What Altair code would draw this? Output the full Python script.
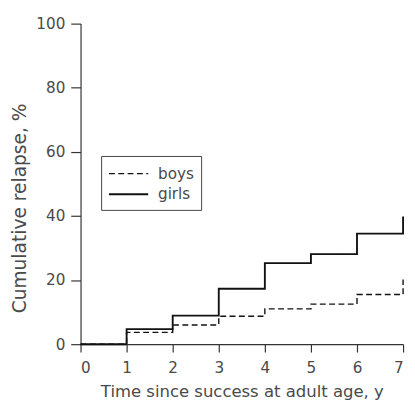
import altair as alt
import pandas as pd

years = [0, 1, 2, 3, 4, 5, 6, 7]
boys = [0, 3.7, 6.0, 8.7, 11.0, 12.5, 15.5, 20.2]
girls = [0, 4.7, 8.9, 17.3, 25.3, 28.1, 34.5, 39.8]
groups = ["boys", "girls"]

rows = []
for g, vals in zip(groups, [boys, girls]):
    for t, v in zip(years, vals):
        rows.append({"t": t, "v": v, "group": g})
df = pd.DataFrame(rows)

FONT = "DejaVu Sans"
TXT = "#4a4a4a"

chart = alt.Chart(df).mark_line(interpolate="step-after", color="#111").encode(
    x=alt.X("t:Q", scale=alt.Scale(domain=[0, 7], nice=False),
            axis=alt.Axis(title="Time since success at adult age, y", values=years,
                          format="d", grid=False, tickSize=8, labelPadding=9,
                          titlePadding=8, labelFontSize=15.5, titleFontSize=16.8)),
    y=alt.Y("v:Q", scale=alt.Scale(domain=[0, 100], nice=False),
            axis=alt.Axis(title="Cumulative relapse, %", values=[0, 20, 40, 60, 80, 100],
                          grid=False, tickSize=10, labelPadding=6,
                          titleX=-62, titleY=188, titleBaseline="middle",
                          labelFontSize=15.5, titleFontSize=19)),
    strokeDash=alt.StrokeDash("group:N",
                              scale=alt.Scale(domain=groups, range=[[6, 3.5], [1, 0]]),
                              legend=alt.Legend(title=None, orient="none", legendX=21, legendY=135,
                                                strokeColor="#444", padding=7,
                                                symbolType="M-2,0H2", symbolSize=400,
                                                symbolOffset=10,
                                                symbolStrokeWidth=2, symbolStrokeColor="#111",
                                                labelFontSize=15.5, labelFont=FONT, labelColor=TXT,
                                                rowPadding=1, labelOffset=19)),
    strokeWidth=alt.StrokeWidth("group:N", scale=alt.Scale(domain=groups, range=[1.4, 1.9]),
                                legend=None),
).properties(
    width=329, height=327,
    autosize=alt.AutoSizeParams(type="none"),
    padding={"left": 74, "top": 12, "right": 4, "bottom": 54},
).configure_view(stroke=None).configure_axis(
    labelFont=FONT, titleFont=FONT, labelColor=TXT, titleColor=TXT,
    domainColor="#333", tickColor="#333", domainWidth=1.2, tickWidth=1.2,
    titleFontWeight="normal",
)

chart.save("out.html", embed_options={"renderer": "svg", "actions": False})
